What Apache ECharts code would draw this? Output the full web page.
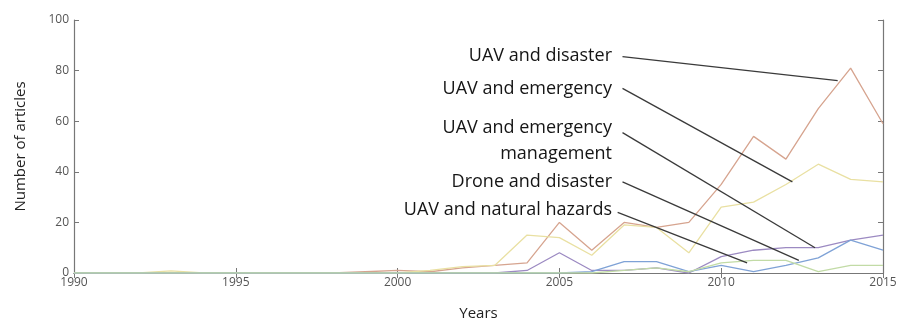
<!DOCTYPE html>
<html>
<head>
<meta charset="utf-8">
<script src="https://cdn.jsdelivr.net/npm/echarts@6/dist/echarts.min.js"></script>
<style>
  html, body { margin: 0; padding: 0; background: #fff; }
  #chart { width: 898px; height: 319px; }
</style>
</head>
<body>
<div id="chart"></div>
<script>
// years 1990..2015
const years = [1990, 1991, 1992, 1993, 1994, 1995, 1996, 1997, 1998, 1999, 2000, 2001, 2002,
               2003, 2004, 2005, 2006, 2007, 2008, 2009, 2010, 2011, 2012, 2013, 2014, 2015];

const uavDisaster   = [0, 0, 0, 0, 0, 0, 0, 0, 0, 0.5, 1, 0.5, 2, 3, 4, 20, 9, 20, 18, 20, 35, 54, 45, 65, 81, 59];
const uavEmergency  = [0, 0, 0, 0.8, 0, 0, 0, 0, 0, 0, 0, 1, 2.5, 3, 15, 14, 7, 19, 18, 8, 26, 28, 35, 43, 37, 36];
const uavEmergMgmt  = [0, 0, 0, 0, 0, 0, 0, 0, 0, 0, 0, 0, 0, 0, 1, 8, 1, 1, 2, 0, 6.5, 9, 10, 10, 13, 15];
const droneDisaster = [0, 0, 0, 0, 0, 0, 0, 0, 0, 0, 0, 0, 0, 0, 0, 0, 0.5, 4.5, 4.5, 0.5, 3, 0.5, 3, 6, 13, 9];
const uavHazards    = [0, 0, 0, 0, 0, 0, 0, 0, 0, 0, 0, 0, 0, 0, 0, 0, 0, 1, 2, 0.5, 4, 5, 5, 0.5, 3, 3];

// annotation text lines and where their pointers go (data coords)
const labelLines = ['UAV and disaster', 'UAV and emergency', 'UAV and emergency', 'management', 'Drone and disaster', 'UAV and natural hazards'];
const labelY = [56, 89, 128, 154, 182, 210];
const pointerFrom = [[2006.95, 85.5], [2006.95, 73], [2006.95, 55.5], [2006.95, 36], [2006.8, 24]];
const pointerTo   = [[2013.6, 76], [2012.2, 36], [2012.9, 10], [2012.4, 5], [2010.8, 4]];

const pairs = vals => years.map((y, i) => [y, vals[i]]);

const chart = echarts.init(document.getElementById('chart'));

const dataSeries = [
  { name: 'UAV and disaster', data: pairs(uavDisaster), color: '#d6a48f' },
  { name: 'UAV and emergency', data: pairs(uavEmergency), color: '#e9e0a2' },
  { name: 'UAV and emergency management', data: pairs(uavEmergMgmt), color: '#9c8ac2' },
  { name: 'Drone and disaster', data: pairs(droneDisaster), color: '#7fa2d6' },
  { name: 'UAV and natural hazards', data: pairs(uavHazards), color: '#c2dba6' }
].map(s => ({
  type: 'line',
  name: s.name,
  data: s.data,
  showSymbol: false,
  silent: true,
  lineStyle: { color: s.color, width: 1.3 },
  z: 2
}));

const pointerSeries = pointerFrom.map((p, i) => ({
  type: 'line',
  data: [p, pointerTo[i]],
  showSymbol: false,
  silent: true,
  lineStyle: { color: '#3a3a3a', width: 1.3 },
  z: 3
}));

const font = '"Open Sans", "DejaVu Sans", sans-serif';
const frame = { show: true, lineStyle: { color: '#777', width: 1.2 } };
const ticks = { inside: true, length: 5, lineStyle: { color: '#777' } };

chart.setOption({
  animation: false,
  grid: { left: 74, right: 15, top: 20, bottom: 46, outerBoundsMode: 'none', containLabel: false },
  xAxis: [{
    type: 'value', min: 1990, max: 2015, interval: 5,
    name: 'Years', nameLocation: 'middle', nameGap: 33,
    nameTextStyle: { color: '#222', fontSize: 15, fontFamily: font },
    axisLine: frame, axisTick: ticks,
    axisLabel: { color: '#555', fontSize: 12, margin: 4, fontFamily: font, formatter: v => String(v) },
    splitLine: { show: false }
  }, {
    type: 'value', min: 1990, max: 2015, interval: 5, position: 'top',
    axisLine: frame, axisTick: ticks,
    axisLabel: { show: false },
    splitLine: { show: false }
  }],
  yAxis: [{
    type: 'value', min: 0, max: 100, interval: 20,
    name: 'Number of articles', nameLocation: 'middle', nameGap: 46, nameRotate: 90,
    nameTextStyle: { color: '#222', fontSize: 15, fontFamily: font },
    axisLine: frame, axisTick: ticks,
    axisLabel: { color: '#555', fontSize: 12, margin: 5, fontFamily: font },
    splitLine: { show: false }
  }, {
    type: 'value', min: 0, max: 100, interval: 20, position: 'right',
    axisLine: frame, axisTick: ticks,
    axisLabel: { show: false },
    splitLine: { show: false }
  }],
  series: dataSeries.concat(pointerSeries),
  graphic: labelLines.map((t, i) => ({
    type: 'text',
    x: 612,
    y: labelY[i],
    style: {
      text: t,
      fill: '#151515',
      font: '18px ' + font,
      align: 'right',
      verticalAlign: 'middle'
    }
  }))
});
</script>
</body>
</html>
